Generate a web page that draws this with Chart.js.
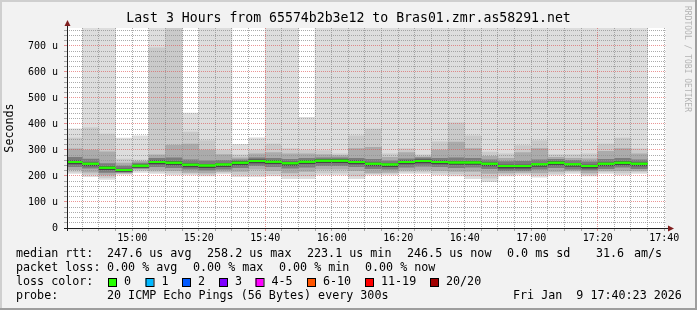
<!DOCTYPE html>
<html>
<head>
<meta charset="utf-8">
<script src="https://cdn.jsdelivr.net/npm/chart.js@4.4.1/dist/chart.umd.min.js"></script>
<style>
  html, body { margin: 0; padding: 0; background: #f2f2f2; }
  canvas { display: block; }
</style>
</head>
<body>
<canvas id="smoke" width="697" height="310"></canvas>
<script>
// 5 minute rrd slots (start of each slot)
const slots = [
  "14:40", "14:45", "14:50", "14:55", "15:00", "15:05", "15:10", "15:15", "15:20",
  "15:25", "15:30", "15:35", "15:40", "15:45", "15:50", "15:55", "16:00", "16:05",
  "16:10", "16:15", "16:20", "16:25", "16:30", "16:35", "16:40", "16:45", "16:50",
  "16:55", "17:00", "17:05", "17:10", "17:15", "17:20", "17:25", "17:30"
];

// median rtt per slot (us)
const median = [254, 247, 232, 223, 239, 254, 251, 243, 240, 244, 251, 258, 255, 249, 255, 259, 259, 254,
  247, 244, 254, 258, 254, 252, 252, 247, 238, 238, 245, 251, 245, 238, 247, 251, 247];

// smoke: outer pair (min / max) down to the inner pair around the median
const lo1 = [210, 197, 187, 206, 214, 210, 204, 204, 200, 208, 197, 197, 200, 190, 190, 204, 204, 190,
  204, 204, 210, 210, 204, 200, 190, 178, 200, 204, 195, 204, 210, 200, 210, 204, 210];
const hi1 = [381, 800, 800, 346, 354, 800, 800, 442, 800, 800, 322, 347, 800, 800, 426, 800, 800, 800,
  800, 800, 800, 800, 800, 800, 800, 800, 800, 800, 800, 800, 800, 800, 800, 800, 800];
const lo2 = [216, 206, 194, 209, 220, 216, 212, 210, 206, 214, 206, 206, 208, 200, 200, 212, 212, 200,
  210, 210, 216, 216, 212, 208, 200, 192, 206, 210, 204, 210, 216, 206, 216, 212, 216];
const hi2 = [346, 385, 361, 265, 262, 693, 800, 369, 336, 300, 281, 300, 323, 304, 300, 298, 285, 354,
  380, 285, 304, 281, 331, 404, 354, 292, 285, 317, 336, 282, 282, 285, 323, 346, 304];
const lo3 = [224, 215, 204, 212, 226, 222, 220, 214, 212, 218, 218, 226, 220, 212, 218, 226, 226, 220,
  212, 214, 222, 224, 220, 218, 218, 210, 212, 214, 212, 218, 220, 212, 220, 220, 220];
const hi3 = [304, 300, 293, 250, 256, 281, 319, 323, 300, 282, 270, 285, 290, 285, 285, 282, 278, 305,
  310, 272, 290, 274, 300, 330, 305, 276, 268, 290, 305, 272, 268, 266, 295, 305, 285];
const lo4 = [236, 230, 214, 215, 230, 236, 232, 226, 222, 226, 232, 240, 236, 230, 234, 240, 240, 236,
  228, 226, 234, 238, 236, 232, 234, 228, 220, 220, 226, 232, 226, 222, 228, 234, 228];
const hi4 = [272, 265, 248, 238, 250, 268, 270, 262, 258, 260, 262, 270, 268, 264, 268, 270, 270, 268,
  264, 258, 266, 270, 268, 270, 268, 262, 255, 256, 262, 264, 260, 254, 264, 268, 262];
const lo5 = [246, 239, 224, 218, 233, 246, 243, 235, 232, 236, 243, 250, 247, 241, 247, 251, 251, 246,
  239, 236, 246, 250, 246, 244, 244, 239, 230, 230, 237, 243, 237, 230, 239, 243, 239];
const hi5 = [258, 251, 236, 227, 243, 258, 255, 247, 244, 248, 255, 262, 259, 253, 259, 263, 263, 258,
  251, 248, 258, 262, 258, 256, 256, 251, 242, 242, 249, 255, 249, 242, 251, 255, 251];

const lossLabels = ["0", "1", "2", "3", "4-5", "6-10", "11-19", "20/20"];
const lossColors = ["#26ff00", "#00b8ff", "#0059ff", "#7e00ff", "#ff00ff", "#ff5500", "#ff0000", "#a10000"];

const title = "Last 3 Hours from 65574b2b3e12 to Bras01.zmr.as58291.net";
const statsRtt = ["median rtt:", "247.6 us avg", "258.2 us max", "223.1 us min", "246.5 us now", "0.0 ms sd", "31.6", "am/s"];
const statsLoss = ["packet loss:", "0.00 % avg", "0.00 % max", "0.00 % min", "0.00 % now"];
const probeText = ["probe:", "20 ICMP Echo Pings (56 Bytes) every 300s", "Fri Jan  9 17:40:23 2026"];

// minutes since 14:00
const tStart = 40 + 23 / 60;
const tEnd = 220 + 23 / 60;
const colx = slots.map((s) => {
  const [h, m] = s.split(":").map(Number);
  return (h - 14) * 60 + m + 2.5;
});

const majorGrid = "rgba(222,79,79,0.6)";
const minorGrid = "rgba(143,143,143,0.75)";
const mono = "'DejaVu Sans Mono'";

function hhmm(v) {
  let h = 14 + Math.floor(v / 60);
  let m = v % 60;
  return `${h}:${m < 10 ? "0" + m : m}`;
}

function band(lo, hi) {
  return colx.map((x, i) => ({ x: x, y: [lo[i], hi[i]] }));
}

const layers = [
  { lo: lo5, hi: hi5, color: "#464646" },
  { lo: lo4, hi: hi4, color: "#7c7c7c" },
  { lo: lo3, hi: hi3, color: "#ababab" },
  { lo: lo2, hi: hi2, color: "#cacaca" },
  { lo: lo1, hi: hi1, color: "#dddddd" },
];

const decor = {
  id: "decor",
  beforeDraw(chart) {
    const { ctx, chartArea: a } = chart;
    ctx.save();
    ctx.fillStyle = "#f2f2f2";
    ctx.fillRect(0, 0, 697, 310);
    ctx.fillStyle = "#cfcfcf";
    ctx.fillRect(0, 0, 697, 2);
    ctx.fillRect(0, 0, 2, 310);
    ctx.fillStyle = "#9e9e9e";
    ctx.fillRect(0, 308, 697, 2);
    ctx.fillRect(695, 0, 2, 310);
    ctx.fillStyle = "#ffffff";
    ctx.fillRect(a.left, a.top, a.right - a.left, a.bottom - a.top);
    ctx.restore();
  },
  afterDraw(chart) {
    const { ctx, chartArea: a } = chart;
    ctx.save();
    // median on top of the grid
    ctx.beginPath();
    ctx.rect(a.left, a.top, a.right - a.left, a.bottom - a.top);
    ctx.clip();
    chart.getDatasetMeta(0).controller.draw();
    ctx.restore();

    ctx.save();
    // axes + arrows
    ctx.strokeStyle = "#1f1f1f";
    ctx.lineWidth = 1;
    ctx.beginPath();
    ctx.moveTo(67.5, 231);
    ctx.lineTo(67.5, 25);
    ctx.moveTo(64, 228.5);
    ctx.lineTo(669, 228.5);
    ctx.stroke();
    ctx.fillStyle = "#801f1f";
    ctx.beginPath();
    ctx.moveTo(64.5, 26);
    ctx.lineTo(70.5, 26);
    ctx.lineTo(67.5, 20);
    ctx.closePath();
    ctx.fill();
    ctx.beginPath();
    ctx.moveTo(668, 225.5);
    ctx.lineTo(668, 231.5);
    ctx.lineTo(674, 228.5);
    ctx.closePath();
    ctx.fill();

    ctx.fillStyle = "#000";
    ctx.textBaseline = "middle";
    ctx.font = `13.2px ${mono}`;
    ctx.textAlign = "center";
    ctx.fillText(title, 348.5, 19);

    ctx.font = `11.7px ${mono}`;
    ctx.save();
    ctx.translate(10, 128);
    ctx.rotate(-Math.PI / 2);
    ctx.fillText("Seconds", 0, 0);
    ctx.restore();

    ctx.save();
    ctx.fillStyle = "#b4b4b4";
    ctx.font = `8px ${mono}`;
    ctx.translate(687, 59);
    ctx.rotate(Math.PI / 2);
    ctx.fillText("RRDTOOL / TOBI OETIKER", 0, 0);
    ctx.restore();

    ctx.textAlign = "left";
    ctx.font = `11.7px ${mono}`;
    const rttX = [16, 107, 207, 307, 407, 507, 596, 634];
    statsRtt.forEach((t, i) => ctx.fillText(t, rttX[i], 254));
    const lossX = [16, 107, 193, 279, 365];
    statsLoss.forEach((t, i) => ctx.fillText(t, lossX[i], 268));
    ctx.fillText("loss color:", 16, 282);
    const boxX = [108, 145.5, 182, 219, 255.5, 307, 365, 430];
    lossLabels.forEach((t, i) => {
      ctx.fillStyle = lossColors[i];
      ctx.fillRect(boxX[i], 278, 8, 8);
      ctx.strokeStyle = "#000";
      ctx.strokeRect(boxX[i] + 0.5, 278.5, 8, 8);
      ctx.fillStyle = "#000";
      ctx.fillText(t, boxX[i] + 16, 282);
    });
    ctx.fillText(probeText[0], 16, 296);
    ctx.fillText(probeText[1], 107, 296);
    ctx.fillText(probeText[2], 513, 296);
    ctx.restore();
  },
};

const gridColor = (c) => (c.tick && Math.round(c.tick.value) % 100 === 0 ? majorGrid : minorGrid);

Chart.defaults.font.family = mono;

new Chart(document.getElementById("smoke"), {
  type: "bar",
  data: {
    datasets: [
      {
        type: "line",
        data: colx.map((x, i) => ({ x: x, y: median[i] })),
        showLine: false,
        pointStyle: "line",
        pointRadius: 8.31,
        pointBorderWidth: 2,
        pointBorderColor: lossColors[0],
        pointBackgroundColor: lossColors[0],
        borderColor: lossColors[0],
      },
    ].concat(
      layers.map((l) => ({
        data: band(l.lo, l.hi),
        backgroundColor: l.color,
        borderWidth: 0,
        barPercentage: 1,
        categoryPercentage: 1,
        grouped: false,
      }))
    ),
  },
  options: {
    responsive: false,
    animation: false,
    events: [],
    layout: { padding: { left: 0, right: 31.5, top: 28, bottom: 0 } },
    plugins: { legend: { display: false }, tooltip: { enabled: false } },
    scales: {
      x: {
        type: "linear",
        min: tStart,
        max: tEnd,
        offset: false,
        afterFit: (s) => { s.height = 82; },
        afterBuildTicks: (s) => {
          s.ticks = [];
          for (let v = 45; v <= 220; v += 5) s.ticks.push({ value: v });
        },
        ticks: {
          autoSkip: false,
          maxRotation: 0,
          padding: 1,
          color: "#000",
          font: { size: 10 },
          callback: (v) => (v % 20 === 0 ? hhmm(v) : ""),
        },
        grid: { offset: false, z: 1, color: gridColor, tickLength: 3 },
        border: { display: false, dash: [1, 1] },
      },
      y: {
        type: "linear",
        min: 0,
        max: 769,
        afterFit: (s) => { s.width = 67; },
        afterBuildTicks: (s) => {
          s.ticks = [];
          for (let v = 0; v <= 760; v += 20) s.ticks.push({ value: v });
        },
        ticks: {
          autoSkip: false,
          padding: 6,
          color: "#000",
          font: { size: 10 },
          callback: (v) => (v === 0 ? "0" : v % 100 === 0 ? v + " u" : ""),
        },
        grid: { z: 1, color: gridColor, tickLength: 3 },
        border: { display: false, dash: [1, 1] },
      },
    },
  },
  plugins: [decor],
});
</script>
</body>
</html>
